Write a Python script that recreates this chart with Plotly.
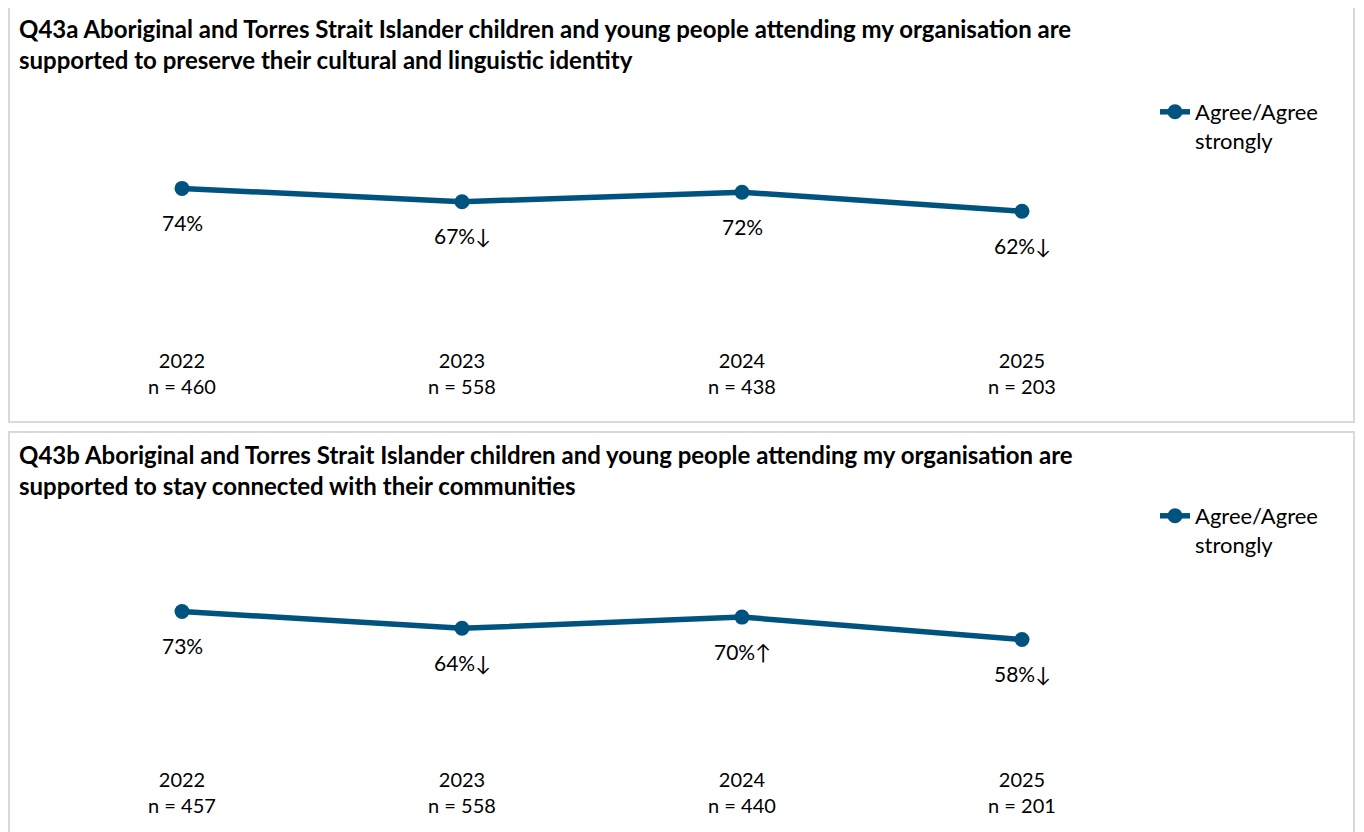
import plotly.graph_objects as go

years = ["2022", "2023", "2024", "2025"]

# Q43a
q43a_values = [74, 67, 72, 62]
q43a_marks = ["", "↓", "", "↓"]
q43a_n = [460, 558, 438, 203]

# Q43b
q43b_values = [73, 64, 70, 58]
q43b_marks = ["", "↓", "↑", "↓"]
q43b_n = [457, 558, 440, 201]

q43a_title = ("Q43a Aboriginal and Torres Strait Islander children and young people attending my organisation are<br>"
              "supported to preserve their cultural and linguistic identity")
q43b_title = ("Q43b Aboriginal and Torres Strait Islander children and young people attending my organisation are<br>"
              "supported to stay connected with their communities")
series_name = "Agree/Agree<br>strongly"

# page has an 8px body margin, so the figure is drawn 8px smaller
OFF = 8
W, H = 1364 - OFF, 832 - OFF
FONT = "Lato"
LINE = "#00527f"


def px(x):
    return (x - OFF) / W


def py(y):
    return 1 - (y - OFF) / H


fig = go.Figure()

panels = [
    (q43a_values, q43a_marks, q43a_n, q43a_title, "x", "y", "legend", 139, 329, 6, 422, 91),
    (q43b_values, q43b_marks, q43b_n, q43b_title, "x2", "y2", "legend2", 561, 748, 432, 840, 495),
]

for i, (vals, marks, ns, title, xa, ya, lg, top, bot, btop, bbot, legtop) in enumerate(panels):
    fig.add_trace(go.Scatter(
        x=years, y=vals, mode="lines+markers", name=series_name,
        line=dict(color=LINE, width=5.5), marker=dict(size=15, color=LINE),
        xaxis=xa, yaxis=ya, legend=lg, hoverinfo="skip",
    ))
    # data labels below the points (category index for x)
    for j, (v, m) in enumerate(zip(vals, marks)):
        fig.add_annotation(x=j, y=v, xref=xa, yref=ya, text=f"{v}%{m}",
                           showarrow=False, yshift=-34,
                           font=dict(family=FONT, size=21, color="#000000"))
    # panel title
    fig.add_annotation(x=px(17), y=py(btop + 6), xref="paper", yref="paper",
                       xanchor="left", yanchor="top", align="left",
                       text=f"<b>{title}</b>", showarrow=False,
                       font=dict(family=FONT, size=24, color="#000000"))
    # panel border
    fig.add_shape(type="rect", xref="paper", yref="paper",
                  x0=px(9), x1=px(1354), y0=py(btop), y1=py(bbot),
                  line=dict(color="#d9d9d9", width=2))

    sfx = "" if i == 0 else "2"
    fig.update_layout({
        f"xaxis{sfx}": dict(
            domain=[px(42), px(1162)], anchor=ya, type="category",
            range=[-0.5, 3.5], showgrid=False, zeroline=False, showline=False,
            tickvals=years,
            ticktext=[f"{yr}<br>n = {n}" for yr, n in zip(years, ns)],
            ticks="", ticklabelstandoff=18,
            tickfont=dict(family=FONT, size=20, color="#000000"),
        ),
        f"yaxis{sfx}": dict(
            domain=[py(bot), py(top)], anchor=xa, range=[0, 100],
            visible=False,
        ),
        lg: dict(x=px(1155), y=py(legtop), xanchor="left", yanchor="top",
                 valign="top", font=dict(family=FONT, size=22, color="#000000"),
                 bgcolor="rgba(0,0,0,0)"),
    })

fig.update_layout(
    width=W, height=H,
    margin=dict(l=0, r=0, t=0, b=0),
    paper_bgcolor="white", plot_bgcolor="white",
    showlegend=True,
)

fig.write_html("out.html")
